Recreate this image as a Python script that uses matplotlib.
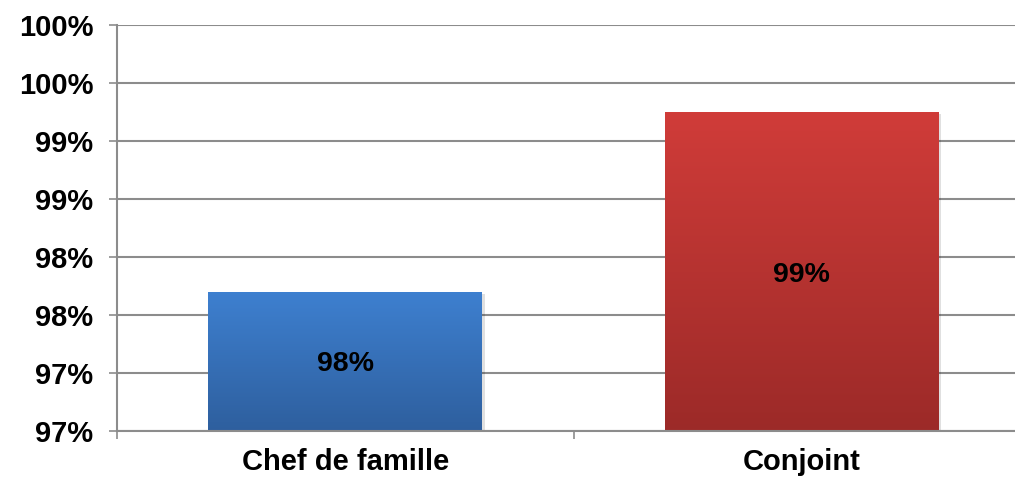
import matplotlib
matplotlib.use('Agg')
import matplotlib.pyplot as plt
import numpy as np
from matplotlib.patches import Rectangle
from matplotlib.colors import LinearSegmentedColormap

plt.rcParams['font.family'] = ['Liberation Sans', 'DejaVu Sans']
plt.rcParams['font.weight'] = 'bold'

#------------------------------------------------------------------------
# Data
#------------------------------------------------------------------------
categories = ['Chef de famille', 'Conjoint']
values     = [97.8, 99.35]                 # percent
bar_labels = ['98%', '99%']
bar_top_colors    = ['#3E80D0', '#D03C39']
bar_bottom_colors = ['#2E5F9E', '#9C2A28']

y_min  = 96.6
y_max  = 100.1
y_step = 0.5

#------------------------------------------------------------------------
fig = plt.figure(figsize=(10.15, 4.79), dpi=100)
# axes right edge runs slightly past the figure, as in the reference crop
ax = fig.add_axes([117/1015, 48/479, 913/1015, 406/479])

x = np.arange(len(categories))
width = 0.6
grid_color = '#8C8C8C'

for xi, val, lab, c_top, c_bot in zip(x, values, bar_labels,
                                      bar_top_colors, bar_bottom_colors):
    # soft shadow
    shadow = Rectangle((xi - width/2 + 0.006, y_min), width, val - y_min - 0.02,
                       facecolor='#000000', alpha=0.12, zorder=2,
                       edgecolor='none')
    ax.add_patch(shadow)
    # gradient bar
    bar = ax.bar(xi, val - y_min, bottom=y_min, width=width,
                 color='none', edgecolor='none', zorder=3)[0]
    cmap = LinearSegmentedColormap.from_list('g', [c_bot, c_top])
    grad = np.linspace(0, 1, 256).reshape(-1, 1)
    im = ax.imshow(grad, cmap=cmap, aspect='auto', origin='lower',
                   extent=[xi - width/2, xi + width/2, y_min, val],
                   zorder=3)
    im.set_clip_path(bar)
    ax.text(xi, (y_min + val) / 2, lab, ha='center', va='center_baseline',
            fontsize=20.5, fontweight='bold', color='black', zorder=4)

ax.set_xlim(-0.5, len(categories) - 0.5)
ax.set_ylim(y_min, y_max)

yticks = np.arange(y_min, y_max + 0.01, y_step)
ax.set_yticks(yticks)
ax.set_yticklabels(['{:.0f}%'.format(t) for t in yticks])

ax.set_xticks(np.arange(-0.5, len(categories)))
ax.set_xticklabels([])
ax.set_xticks(x, minor=True)
ax.set_xticklabels(categories, minor=True)

ax.yaxis.grid(True, color=grid_color, linewidth=1.5, zorder=1)
ax.set_axisbelow(True)

for side in ['top', 'right']:
    ax.spines[side].set_visible(False)
for side in ['left', 'bottom']:
    ax.spines[side].set_color(grid_color)
    ax.spines[side].set_linewidth(1.5)
    ax.spines[side].set_zorder(5)

ax.tick_params(axis='y', length=6, width=1.2, color=grid_color, pad=11,
               labelsize=21)
ax.tick_params(axis='x', which='major', length=6, width=1.2,
               color=grid_color)
ax.tick_params(axis='x', which='minor', length=0, pad=12, labelsize=21)
for t in ax.get_yticklabels() + ax.get_xticklabels(minor=True):
    t.set_fontweight('bold')

fig.savefig('out.png', dpi=100)
